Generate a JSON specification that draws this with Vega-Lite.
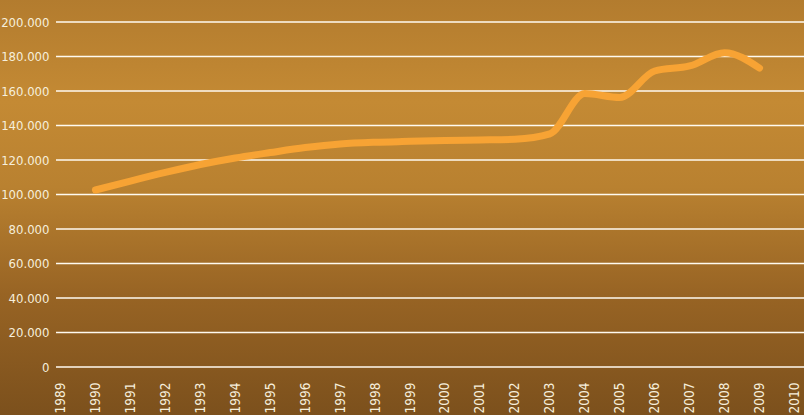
{
  "$schema": "https://vega.github.io/schema/vega-lite/v6.json",
  "width": 748,
  "height": 345,
  "autosize": {"type": "none"},
  "padding": {"left": 56, "top": 22, "right": 0, "bottom": 48},
  "background": "#a0702a",
  "config": {
    "view": {"stroke": null},
    "axis": {"labelOverlap": false, "labelBound": false, "labelFlush": false}
  },
  "layer": [
    {
      "data": {"values": [{"k": 1}]},
      "mark": {
        "type": "rect",
        "fill": {
          "gradient": "linear", "x1": 0, "y1": 0, "x2": 0, "y2": 1,
          "stops": [
            {"offset": 0, "color": "#b27b2e"},
            {"offset": 0.25, "color": "#c48a34"},
            {"offset": 0.45, "color": "#b98130"},
            {"offset": 0.7, "color": "#986424"},
            {"offset": 1, "color": "#7a4f1c"}
          ]
        }
      },
      "encoding": {
        "x": {"datum": 1987.0, "type": "quantitative", "title": null, "scale": {"domain": [1988.871, 2010.273], "nice": false, "zero": false},
          "axis": {"title": null, "values": [1989, 1990, 1991, 1992, 1993, 1994, 1995, 1996, 1997, 1998, 1999, 2000, 2001, 2002, 2003, 2004, 2005, 2006, 2007, 2008, 2009, 2010], "format": "d", "labelAngle": 270, "labelFontSize": 13.5, "labelFont": "DejaVu Sans Condensed", "labelColor": "#f6efdc", "zindex": 1, "domain": false, "ticks": false, "tickSize": 0, "grid": false, "labelPadding": 15, "labelOverlap": false, "labelBound": false, "labelFlush": false}},
        "x2": {"datum": 2010.6},
        "y": {"datum": -32000, "type": "quantitative", "title": null, "scale": {"domain": [0, 200000], "nice": false},
          "axis": {"title": null, "values": [0, 20000, 40000, 60000, 80000, 100000, 120000, 140000, 160000, 180000, 200000], "labelExpr": "replace(format(datum.value, ','), ',', '.')", "labelFontSize": 13, "labelFont": "DejaVu Sans Condensed", "labelColor": "#f6efdc", "zindex": 1, "domain": false, "ticks": false, "tickSize": 0, "grid": false, "labelPadding": 7, "labelOverlap": false, "labelBound": false, "labelFlush": false}},
        "y2": {"datum": 216000}
      }
    },
    {
      "data": {"values": [{"v": 0}, {"v": 20000}, {"v": 40000}, {"v": 60000}, {"v": 80000}, {"v": 100000}, {"v": 120000}, {"v": 140000}, {"v": 160000}, {"v": 180000}, {"v": 200000}]},
      "mark": {"type": "rule", "color": "#fffaf0", "strokeWidth": 1.5},
      "encoding": {
        "y": {"field": "v", "type": "quantitative", "title": null, "scale": {"domain": [0, 200000], "nice": false},
          "axis": {"title": null, "values": [0, 20000, 40000, 60000, 80000, 100000, 120000, 140000, 160000, 180000, 200000], "labelExpr": "replace(format(datum.value, ','), ',', '.')", "labelFontSize": 13, "labelFont": "DejaVu Sans Condensed", "labelColor": "#f6efdc", "zindex": 1, "domain": false, "ticks": false, "tickSize": 0, "grid": false, "labelPadding": 7, "labelOverlap": false, "labelBound": false, "labelFlush": false}}
      }
    },
    {
      "data": {"values": [
        {"year": 1990, "value": 102600},
        {"year": 1991, "value": 107800},
        {"year": 1992, "value": 112800},
        {"year": 1993, "value": 117400},
        {"year": 1994, "value": 121200},
        {"year": 1995, "value": 124300},
        {"year": 1996, "value": 127200},
        {"year": 1997, "value": 129300},
        {"year": 1998, "value": 130300},
        {"year": 1999, "value": 130800},
        {"year": 2000, "value": 131300},
        {"year": 2001, "value": 131600},
        {"year": 2002, "value": 132000},
        {"year": 2003, "value": 135100},
        {"year": 2004, "value": 158500},
        {"year": 2005, "value": 156200},
        {"year": 2006, "value": 171600},
        {"year": 2007, "value": 174500},
        {"year": 2008, "value": 182200},
        {"year": 2009, "value": 173300}
      ]},
      "mark": {"type": "line", "color": "#f7a334", "strokeWidth": 7, "strokeCap": "round", "interpolate": "monotone"},
      "encoding": {
        "x": {"field": "year", "type": "quantitative", "title": null, "scale": {"domain": [1988.871, 2010.273], "nice": false, "zero": false},
          "axis": {"title": null, "values": [1989, 1990, 1991, 1992, 1993, 1994, 1995, 1996, 1997, 1998, 1999, 2000, 2001, 2002, 2003, 2004, 2005, 2006, 2007, 2008, 2009, 2010], "format": "d", "labelAngle": 270, "labelFontSize": 13.5, "labelFont": "DejaVu Sans Condensed", "labelColor": "#f6efdc", "zindex": 1, "domain": false, "ticks": false, "tickSize": 0, "grid": false, "labelPadding": 15, "labelOverlap": false, "labelBound": false, "labelFlush": false}},
        "y": {"field": "value", "type": "quantitative", "title": null, "scale": {"domain": [0, 200000], "nice": false},
          "axis": {"title": null, "values": [0, 20000, 40000, 60000, 80000, 100000, 120000, 140000, 160000, 180000, 200000], "labelExpr": "replace(format(datum.value, ','), ',', '.')", "labelFontSize": 13, "labelFont": "DejaVu Sans Condensed", "labelColor": "#f6efdc", "zindex": 1, "domain": false, "ticks": false, "tickSize": 0, "grid": false, "labelPadding": 7, "labelOverlap": false, "labelBound": false, "labelFlush": false}}
      }
    }
  ]
}
